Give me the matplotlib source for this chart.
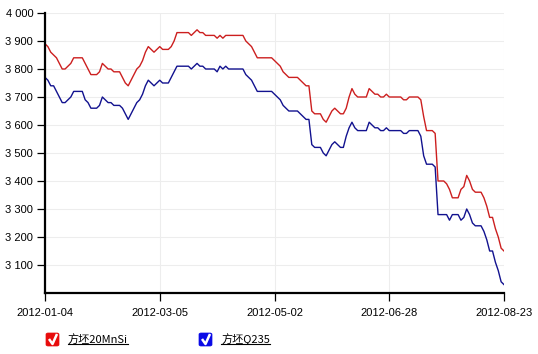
import numpy as np
import matplotlib
matplotlib.use("Agg")
import matplotlib.pyplot as plt
from matplotlib.patches import FancyBboxPatch
from matplotlib.lines import Line2D
from matplotlib.transforms import IdentityTransform
from matplotlib.ticker import FuncFormatter

# series names / colours
names = ['方坯20MnSi', '方坯Q235']
colors = ['#cc1f1f', '#12128f']
box_colors = ['#e80c0c', '#0a0ae6']

# price values, one per trading day
red = [3890, 3880, 3860, 3850, 3840, 3820, 3800, 3800, 3810, 3820,
       3840, 3840, 3840, 3840, 3820, 3800, 3780, 3780, 3780, 3790,
       3820, 3810, 3800, 3800, 3790, 3790, 3790, 3770, 3750, 3740,
       3760, 3780, 3800, 3810, 3830, 3860, 3880, 3870, 3860, 3870,
       3880, 3870, 3870, 3870, 3880, 3900, 3930, 3930, 3930, 3930,
       3930, 3920, 3930, 3940, 3930, 3930, 3920, 3920, 3920, 3920,
       3910, 3920, 3910, 3920, 3920, 3920, 3920, 3920, 3920, 3920,
       3900, 3890, 3880, 3860, 3840, 3840, 3840, 3840, 3840, 3840,
       3830, 3820, 3810, 3790, 3780, 3770, 3770, 3770, 3770, 3760,
       3750, 3740, 3740, 3650, 3640, 3640, 3640, 3620, 3610, 3630,
       3650, 3660, 3650, 3640, 3640, 3660, 3700, 3730, 3710, 3700,
       3700, 3700, 3700, 3730, 3720, 3710, 3710, 3700, 3700, 3710,
       3700, 3700, 3700, 3700, 3700, 3690, 3690, 3700, 3700, 3700,
       3700, 3690, 3630, 3580, 3580, 3580, 3570, 3400, 3400, 3400,
       3390, 3370, 3340, 3340, 3340, 3370, 3380, 3420, 3400, 3370,
       3360, 3360, 3360, 3340, 3310, 3270, 3270, 3230, 3200, 3160,
       3150]
blue = [3770, 3760, 3740, 3740, 3720, 3700, 3680, 3680, 3690, 3700,
        3720, 3720, 3720, 3720, 3690, 3680, 3660, 3660, 3660, 3670,
        3700, 3690, 3680, 3680, 3670, 3670, 3670, 3660, 3640, 3620,
        3640, 3660, 3680, 3690, 3710, 3740, 3760, 3750, 3740, 3750,
        3760, 3750, 3750, 3750, 3770, 3790, 3810, 3810, 3810, 3810,
        3810, 3800, 3810, 3820, 3810, 3810, 3800, 3800, 3800, 3800,
        3790, 3810, 3800, 3810, 3800, 3800, 3800, 3800, 3800, 3800,
        3780, 3770, 3760, 3740, 3720, 3720, 3720, 3720, 3720, 3720,
        3710, 3700, 3690, 3670, 3660, 3650, 3650, 3650, 3650, 3640,
        3630, 3620, 3620, 3530, 3520, 3520, 3520, 3500, 3490, 3510,
        3530, 3540, 3530, 3520, 3520, 3560, 3590, 3610, 3590, 3580,
        3580, 3580, 3580, 3610, 3600, 3590, 3590, 3580, 3580, 3590,
        3580, 3580, 3580, 3580, 3580, 3570, 3570, 3580, 3580, 3580,
        3580, 3560, 3490, 3460, 3460, 3460, 3450, 3280, 3280, 3280,
        3280, 3260, 3280, 3280, 3280, 3260, 3270, 3300, 3280, 3250,
        3240, 3240, 3240, 3220, 3190, 3150, 3150, 3110, 3080, 3040,
        3030]

tick_labels = ['2012-01-04', '2012-03-05', '2012-05-02', '2012-06-28', '2012-08-23']
y_ticks = [3100, 3200, 3300, 3400, 3500, 3600, 3700, 3800, 3900, 4000]

W, H = 538, 354
fig = plt.figure(figsize=(W / 100, H / 100), dpi=100)
ax = fig.add_axes([45 / W, 1 - 293 / H, 459 / W, 280 / H])

x = np.arange(len(red))
ax.plot(x, red, color=colors[0], lw=1.0)
ax.plot(x, blue, color=colors[1], lw=1.0)

n = len(red) - 1
xt = np.linspace(0, n, len(tick_labels))
ax.set_xlim(0, n)
ax.set_ylim(3000, 4000)
ax.set_xticks(xt)
ax.set_xticklabels(tick_labels)
ax.set_yticks(y_ticks)
ax.yaxis.set_major_formatter(FuncFormatter(lambda v, p: f"{int(v):,}".replace(",", " ")))

for s in ['top', 'right']:
    ax.spines[s].set_visible(False)
for s in ['left', 'bottom']:
    ax.spines[s].set_linewidth(1.6)
    ax.spines[s].set_color('black')
ax.grid(True, color='#ededed', lw=0.8)
ax.set_axisbelow(True)

tick_font = ['Liberation Sans', 'DejaVu Sans']
ax.tick_params(axis='y', length=5.5, width=0.9, pad=3, labelsize=8)
ax.tick_params(axis='x', length=6, width=0.9, pad=5, labelsize=8)
for lab in ax.get_xticklabels() + ax.get_yticklabels():
    lab.set_family(tick_font)

# legend below the chart: checkbox + underlined name
def fx(px):
    return px / W

def fy(py):
    return 1 - py / H

legend_x = [45, 198]
texts = []
for lx, name, bc in zip(legend_x, names, box_colors):
    box = FancyBboxPatch((fx(lx + 1), fy(346)), 13 / W, 13 / H,
                         boxstyle="round,pad=0,rounding_size=0.004",
                         transform=fig.transFigure, facecolor=bc,
                         edgecolor=bc, lw=0.5)
    fig.add_artist(box)
    fig.add_artist(Line2D([fx(lx + 4), fx(lx + 7.5), fx(lx + 12)],
                          [fy(339), fy(344), fy(334)],
                          transform=fig.transFigure, color='white',
                          lw=1.8, solid_capstyle='butt'))
    t = fig.text(fx(lx + 23), fy(339.5), name, fontsize=8, va='center',
                 ha='left', family=['Noto Sans CJK SC', 'DejaVu Sans'])
    texts.append(t)

fig.canvas.draw()
r = fig.canvas.get_renderer()
for t in texts:
    bb = t.get_window_extent(r)
    fig.add_artist(Line2D([bb.x0, bb.x1], [bb.y0 + 1, bb.y0 + 1],
                          transform=IdentityTransform(), color='black', lw=0.8))

fig.savefig('out.png', dpi=100)
